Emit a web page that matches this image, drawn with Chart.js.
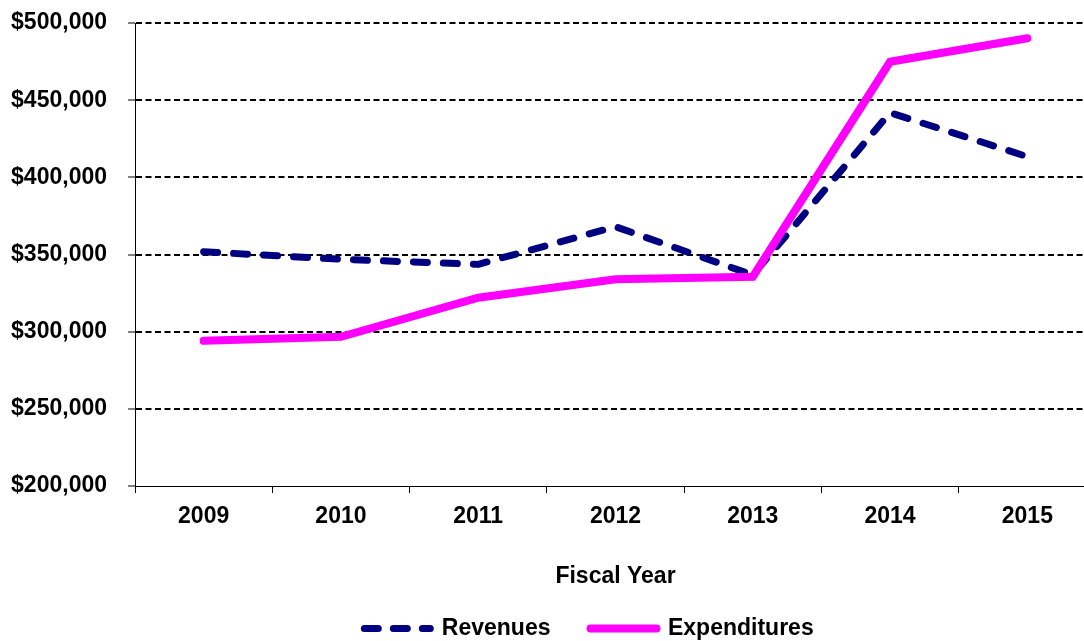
<!DOCTYPE html>
<html>
<head>
<meta charset="utf-8">
<title>Revenues and Expenditures by Fiscal Year</title>
<script src="https://cdn.jsdelivr.net/npm/chart.js@4.4.1/dist/chart.umd.min.js"></script>
<style>
    html, body { margin: 0; padding: 0; background: #fff; overflow: hidden; }
    #wrap { width: 1084px; height: 641px; overflow: hidden; position: relative; }
    #wrap canvas { display: block; }
</style>
</head>
<body>
<div id="wrap">
    <canvas id="fiscalChart" width="1096" height="650" style="width:1096px;height:650px;"></canvas>
</div>
<script>
// Chart data
const years = ['2009', '2010', '2011', '2012', '2013', '2014', '2015'];
const revenues = [351800, 346900, 343600, 368000, 336700, 441900, 413400];
const expenditures = [294100, 296700, 322000, 333900, 335600, 474900, 490100];

const NAVY = '#000080';
const MAGENTA = '#FF00FF';
const FONT = { family: '"Liberation Sans", Arial, sans-serif', size: 23, weight: 'bold' };

function formatMoney(value) {
    return '$' + Number(value).toLocaleString('en-US');
}

// nudge the legend sideways, as in the original layout
const legendShift = {
    id: 'legendShift',
    afterLayout(chart) {
        chart.legend.left += 41;
        chart.legend.right += 41;
    }
};

const ctx = document.getElementById('fiscalChart').getContext('2d');

new Chart(ctx, {
    type: 'line',
    data: {
        labels: years,
        datasets: [
            {
                label: 'Revenues',
                data: revenues,
                borderColor: NAVY,
                backgroundColor: NAVY,
                borderWidth: 7,
                borderDash: [14, 16],
                borderCapStyle: 'round',
                borderJoinStyle: 'round',
                pointRadius: 0,
                tension: 0,
                fill: false,
                order: 2
            },
            {
                label: 'Expenditures',
                data: expenditures,
                borderColor: MAGENTA,
                backgroundColor: MAGENTA,
                borderWidth: 8,
                borderCapStyle: 'round',
                borderJoinStyle: 'miter',
                pointRadius: 0,
                tension: 0,
                fill: false,
                order: 1
            }
        ]
    },
    options: {
        responsive: false,
        animation: false,
        devicePixelRatio: 1,
        layout: { padding: { top: 23, left: 0, right: 0, bottom: 0 } },
        plugins: {
            tooltip: { enabled: false },
            legend: {
                position: 'bottom',
                align: 'center',
                labels: {
                    color: '#000',
                    font: FONT,
                    usePointStyle: true,
                    pointStyleWidth: 66,
                    padding: 40,
                    generateLabels: () => [
                        {
                            text: 'Revenues',
                            datasetIndex: 0,
                            fontColor: '#000',
                            strokeStyle: NAVY,
                            fillStyle: NAVY,
                            lineWidth: 7,
                            lineDash: [14, 15],
                            lineCap: 'round',
                            pointStyle: 'line'
                        },
                        {
                            text: 'Expenditures',
                            datasetIndex: 1,
                            fontColor: '#000',
                            strokeStyle: MAGENTA,
                            fillStyle: MAGENTA,
                            lineWidth: 8,
                            lineDash: [],
                            lineCap: 'round',
                            pointStyle: 'line'
                        }
                    ]
                }
            }
        },
        scales: {
            x: {
                type: 'category',
                offset: true,
                grid: {
                    display: true,
                    offset: true,
                    drawOnChartArea: false,
                    drawTicks: true,
                    tickLength: 7,
                    color: '#000',
                    tickColor: '#000',
                    lineWidth: 1
                },
                border: { display: true, color: '#000', width: 1 },
                ticks: {
                    color: '#000',
                    font: FONT,
                    padding: 10,
                    autoSkip: false,
                    maxRotation: 0
                },
                title: {
                    display: true,
                    text: 'Fiscal Year',
                    color: '#000',
                    font: FONT,
                    padding: { top: 22.6, bottom: -13.8 }
                }
            },
            y: {
                min: 200000,
                max: 500000,
                afterFit: (scale) => {
                    scale.width = 135;
                    // labels only need half their height above the top tick
                    scale.paddingTop = 12;
                    scale.paddingBottom = 12;
                },
                grid: {
                    color: (c) => (c.tick && c.tick.value === 200000) ? 'rgba(0,0,0,0)' : '#000',
                    lineWidth: 2,
                    tickColor: '#000',
                    tickWidth: 1,
                    tickBorderDash: [],
                    tickLength: 7
                },
                border: { display: true, color: '#000', width: 1, dash: [6, 3.5] },
                ticks: {
                    stepSize: 50000,
                    color: '#000',
                    font: FONT,
                    padding: 21,
                    callback: (value) => formatMoney(value)
                }
            }
        }
    },
    plugins: [legendShift]
});
</script>
</body>
</html>
